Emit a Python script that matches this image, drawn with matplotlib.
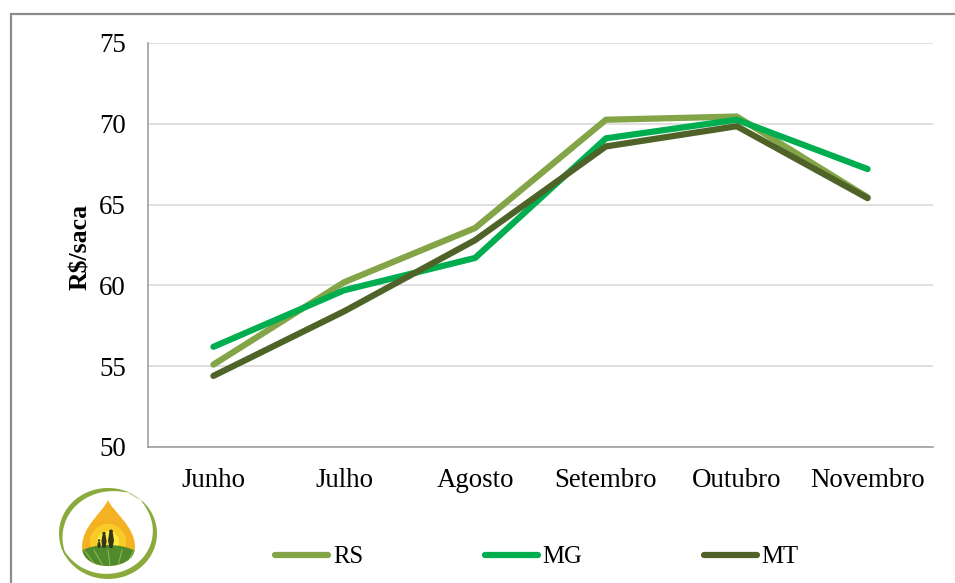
import matplotlib
matplotlib.use("Agg")
import matplotlib.pyplot as plt
import numpy as np
from matplotlib.patches import Circle, PathPatch, Polygon, Ellipse
from matplotlib.path import Path

meses = ["Junho", "Julho", "Agosto", "Setembro", "Outubro", "Novembro"]
rs = [55.1, 60.2, 63.55, 70.25, 70.45, 65.45]
mg = [56.2, 59.7, 61.7, 69.1, 70.25, 67.2]
mt = [54.4, 58.4, 62.8, 68.6, 69.85, 65.4]
y_ticks = [50, 55, 60, 65, 70, 75]

W, H = 955, 583

plt.rcParams["font.family"] = ["Liberation Serif", "DejaVu Serif"]

fig = plt.figure(figsize=(W / 100, H / 100), dpi=100)

# fundo em pixels: moldura e logo
bg = fig.add_axes([0, 0, 1, 1])
bg.set_xlim(0, W)
bg.set_ylim(H, 0)
bg.axis("off")
bg.plot([11, 11, W], [H, 14, 14], color="#8c8c8c", lw=1.6, solid_joinstyle="miter")


def crescente(a0, a1, larg, cor="#8aab3c"):
    # arco do anel com as pontas afinadas (angulos em graus, y para baixo)
    t = np.radians(np.linspace(a0, a1, 60))
    w = larg * np.sin(np.linspace(0, np.pi, 60)) ** 0.6
    ox, oy = 108 + 49 * np.cos(t), 533.5 + 45.5 * np.sin(t)
    ix, iy = 108 + (49 - w) * np.cos(t), 533.5 + (45.5 - w) * np.sin(t)
    pts = np.column_stack([np.r_[ox, ix[::-1]], np.r_[oy, iy[::-1]]])
    bg.add_patch(Polygon(pts, fc=cor, ec="none"))


crescente(150, 295, 5)
crescente(-48, 165, 5.5)
crescente(-68, -48, 1.5, "#c5d3a0")

drop = Path(
    [(108, 500), (103, 512), (82, 526), (82, 547), (82, 560), (95, 566), (108, 566),
     (121, 566), (135, 560), (135, 547), (135, 526), (113, 512), (108, 500)],
    [Path.MOVETO] + [Path.CURVE4] * 12,
)
p = PathPatch(drop, fc="#f4b223", ec="none")
bg.add_patch(p)
for raio, cor in [(18, "#f9cb28"), (11, "#fde93f")]:
    glow = Circle((108, 542), raio, fc=cor, ec="none")
    bg.add_patch(glow)
    glow.set_clip_path(p)
field = Ellipse((108, 569), 84, 48, fc="#4f8a2c", ec="none")
bg.add_patch(field)
field.set_clip_path(p)
for x0, x1 in [(84, 96), (94, 103), (108, 110), (122, 118), (134, 126)]:
    sulco = bg.plot([x0, x1], [550, 566], color="#8db548", lw=0.8)[0]
    sulco.set_clip_path(p)
# familia
escuro = "#33361a"
for px, py, h, larg in [(111, 533, 15, 3), (104, 535, 13, 2.6), (99, 542, 6, 1.7)]:
    bg.add_patch(Polygon([(px - larg, py + h * 0.5), (px - larg * 0.6, py), (px + larg * 0.6, py),
                          (px + larg, py + h * 0.5), (px + larg * 0.5, py + h), (px - larg * 0.5, py + h)],
                         fc=escuro, ec="none"))
    bg.add_patch(Circle((px, py - 1.5), max(h * 0.13, 1.2), fc=escuro, ec="none"))

ax = fig.add_axes([148 / W, 1 - 447 / H, (933 - 148) / W, (447 - 43) / H])
ax.patch.set_alpha(0)

x = np.arange(len(meses))
ax.plot(x, rs, color="#84a448", lw=4.5, solid_capstyle="round", label="RS")
ax.plot(x, mg, color="#00ae50", lw=4.5, solid_capstyle="round", label="MG")
ax.plot(x, mt, color="#4f6228", lw=4.5, solid_capstyle="round", label="MT")

ax.set_xlim(-0.5, 5.5)
ax.set_ylim(50, 75)
ax.set_yticks(y_ticks)
ax.set_xticks(x)
ax.set_xticklabels(meses)
ax.tick_params(axis="both", length=0, labelsize=19.4, colors="black")
ax.tick_params(axis="x", pad=15)
ax.tick_params(axis="y", pad=16)
ax.grid(True, axis="y", color="#d9d9d9", lw=1.2)
ax.set_axisbelow(True)
for s in ["top", "right"]:
    ax.spines[s].set_visible(False)
for s in ["left", "bottom"]:
    ax.spines[s].set_color("#999999")
    ax.spines[s].set_linewidth(1.1)

fig.text(81 / W, 1 - 247 / H, "R$/saca", rotation=90, fontsize=18.5, fontweight="bold",
         ha="center", va="center")

ax.legend(loc="center", bbox_to_anchor=(537 / W, 1 - 557 / H), bbox_transform=fig.transFigure,
          ncol=3, frameon=False, fontsize=17.8, handlelength=2.15, handletextpad=0.2,
          columnspacing=4.9, borderpad=0, borderaxespad=0)

fig.savefig("out.png", dpi=100)
plt.close(fig)
